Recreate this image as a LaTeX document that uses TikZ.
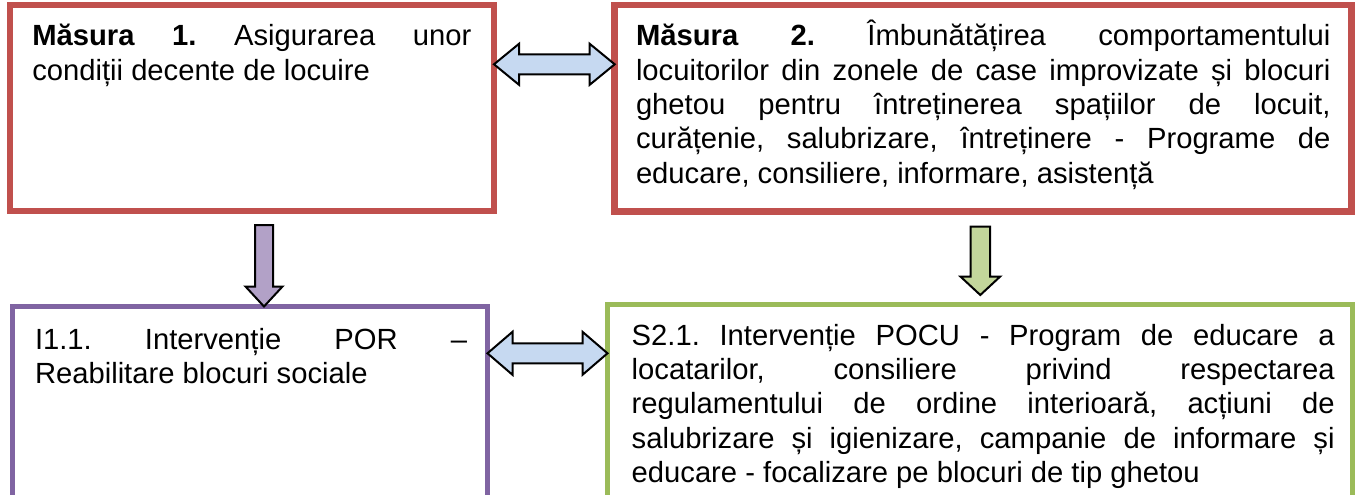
\documentclass[tikz,border=0pt]{standalone}
\usepackage{fontspec}
\setmainfont{Liberation Sans}
\usetikzlibrary{calc,positioning}
\hbadness=10000
\frenchspacing

\definecolor{boxred}{HTML}{C0504D}
\definecolor{boxpurple}{HTML}{8064A2}
\definecolor{boxgreen}{HTML}{9BBB59}
\definecolor{arrowblue}{HTML}{C6D9F1}
\definecolor{arrowpurple}{HTML}{B2A1C7}
\definecolor{arrowgreen}{HTML}{C3D69B}

\begin{document}
\begin{tikzpicture}[x=1pt,y=-1pt,
		box/.style={draw, line width=#1, inner sep=0pt, outer sep=0pt, anchor=north west},
		boxtext/.style={anchor=base west, inner sep=0pt, outer sep=0pt, align=justify,
			font=\fontsize{29.2}{34.4}\selectfont},
		blockarrow/.style={draw=black, line width=2pt, line join=miter}]
		\path[use as bounding box, clip] (0,0) rectangle (1357,495);
		% the four boxes
		\node[box=6.5pt, draw=boxred, minimum width=484, minimum height=206] (m1) at (10,5) {};
		\node[box=6.5pt, draw=boxred, minimum width=736.8, minimum height=206.5] (m2) at (614.7,5) {};
		\node[box=5pt, draw=boxpurple, minimum width=475.5, minimum height=250] (i11) at (12,306.5) {};
		\node[box=5pt, draw=boxgreen, minimum width=745, minimum height=250] (s21) at (607.5,304.5) {};
		% texts
		\node[boxtext, text width=439] (m1txt) at ([shift={(22.3,41)}]m1.north west)
			{\textbf{Măsura 1.} Asigurarea unor\linebreak condiții decente de locuire};
		\node[boxtext, text width=694.5] (m2txt) at ([shift={(21.3,40.7)}]m2.north west)
			{\textbf{Măsura 2.} Îmbunătățirea comportamentului\linebreak
			locuitorilor din zonele de case improvizate și blocuri\linebreak
			ghetou pentru întreținerea spațiilor de locuit,\linebreak
			curățenie, salubrizare, întreținere - Programe de\linebreak
			educare, consiliere, informare, asistență};
		\node[boxtext, text width=432] (i11txt) at ([shift={(23,42.5)}]i11.north west)
			{I1.1. Intervenție POR –\linebreak Reabilitare blocuri sociale};
		\node[boxtext, text width=703] (s21txt) at ([shift={(24.2,40.5)}]s21.north west)
			{S2.1. Intervenție POCU - Program de educare a\linebreak
			locatarilor, consiliere privind respectarea\linebreak
			regulamentului de ordine interioară, acțiuni de\linebreak
			salubrizare și igienizare, campanie de informare și\linebreak
			educare - focalizare pe blocuri de tip ghetou};
		% arrow ends
		\coordinate (a1l) at ([shift={(0,59.3)}]m1.north east);
		\coordinate (a1r) at ([shift={(0,59.3)}]m2.north west);
		\coordinate (a2l) at ([shift={(0,46.8)}]i11.north east);
		\coordinate (a2r) at ([shift={(0,48.8)}]s21.north west);
		\coordinate (d1t) at ([shift={(254,14)}]m1.south west);
		\coordinate (d1b) at ([shift={(252,0)}]i11.north west);
		\coordinate (d2t) at ([shift={(365.6,15.2)}]m2.south west);
		\coordinate (d2b) at ([shift={(372.8,-9.5)}]s21.north west);
		% double arrows
		\draw[blockarrow, fill=arrowblue] (a1l) -- ++(25,-20.5) -- ++(0,10.5) -- ($(a1r)+(-25,-10)$)
			-- ++(0,-10.5) -- (a1r) -- ++(-25,20.5) -- ++(0,-10.5) -- ($(a1l)+(25,10)$) -- ++(0,10.5) -- cycle;
		\draw[blockarrow, fill=arrowblue] (a2l) -- ++(25,-21.5) -- ++(0,11.5) -- ($(a2r)+(-25,-10)$)
			-- ++(0,-11.5) -- (a2r) -- ++(-25,21.5) -- ++(0,-11.5) -- ($(a2l)+(25,10)$) -- ++(0,11.5) -- cycle;
		% down arrows
		\draw[blockarrow, fill=arrowpurple] ($(d1t)+(-9,0)$) -- ($(d1b)+(-9,-20)$) -- ++(-9.5,0) -- (d1b)
			-- ++(18.5,-20) -- ++(-9.5,0) -- ($(d1t)+(9,0)$) -- cycle;
		\draw[blockarrow, fill=arrowgreen] ($(d2t)+(-9.7,0)$) -- ($(d2b)+(-9.7,-18.3)$) -- ++(-10,0) -- (d2b)
			-- ++(19.7,-18.3) -- ++(-10,0) -- ($(d2t)+(9.7,0)$) -- cycle;
	\end{tikzpicture}
\end{document}
